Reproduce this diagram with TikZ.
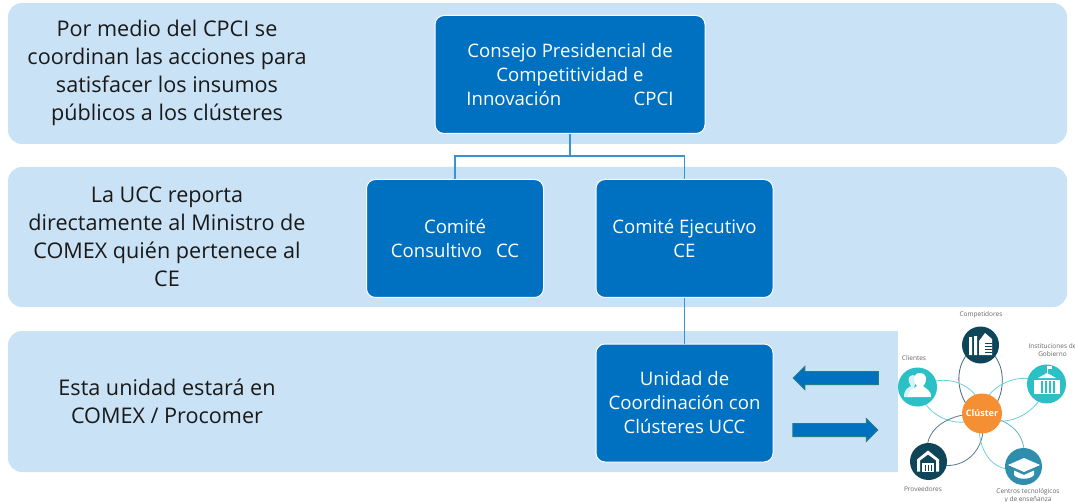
\documentclass[tikz,border=0pt]{standalone}
\usepackage{fontspec}
\setmainfont{Open Sans}
\usetikzlibrary{shapes.arrows,arrows.meta}
\definecolor{band}{HTML}{CAE2F5}
\definecolor{boxblue}{HTML}{0070C0}
\definecolor{linkblue}{HTML}{3A92D0}
\definecolor{navy}{HTML}{0F4559}
\definecolor{teal}{HTML}{2BBFC6}
\definecolor{steel}{HTML}{2F8EAC}
\definecolor{orangec}{HTML}{F58F33}
\definecolor{arrowedge}{HTML}{1F7F86}
\tikzset{
 x=1pt,y=-1pt,
 bandbox/.style={fill=band,draw=none,rounded corners=14pt},
 boxn/.style={fill=boxblue,draw=white,line width=1pt,rounded corners=9pt,text=white,font=\fontsize{18.6}{24}\selectfont,align=center,anchor=center,inner sep=0pt},
 sidetxt/.style={font=\fontsize{21.6}{28}\selectfont,align=center,text=black!90,anchor=center,inner sep=0pt},
 linkl/.style={draw=linkblue,line width=1.4pt},
 bigarrow/.style={single arrow,fill=boxblue,draw=arrowedge,line width=1pt,minimum height=85pt,inner xsep=0pt,inner ysep=6pt,single arrow head extend=5pt,single arrow head indent=0pt,anchor=center},
 disc/.style={circle,inner sep=0pt,minimum size=#1,draw=none},
 captxt/.style={font=\fontsize{6.5}{8}\selectfont,text=black!60,align=center,inner sep=0pt,anchor=center},
 petal/.style={line width=0.8pt},
}
\begin{document}
\begin{tikzpicture}
\useasboundingbox (0,0) rectangle (1075,502);
\clip (0,0) rectangle (1075,502);
\fill[white] (0,0) rectangle (1075,502);
\fill[bandbox] (8,3) rectangle (1067,144);
\fill[bandbox] (8,167) rectangle (1067,307);
\fill[band,rounded corners=14pt] (8,331) -- (8,472) -- (910,472) -- (910,331) -- cycle;
\fill[white] (898,325) rectangle (1075,502);

\node[sidetxt] (t1) at (167,72.5) {Por medio del CPCI se\\coordinan las acciones para\\satisfacer los insumos\\públicos a los clústeres};
\node[sidetxt] (t2) at (167,237) {La UCC reporta\\directamente al Ministro de\\COMEX quién pertenece al\\CE};
\node[sidetxt] (t3) at (167,401) {Esta unidad estará en\\COMEX / Procomer};

\node[boxn,minimum width=270pt,minimum height=118pt] (cpci) at (570,74.5) {Consejo Presidencial de\\Competitividad e\\Innovación\hspace{3.9em}CPCI};
\node[boxn,minimum width=177pt,minimum height=118pt] (cc) at (455,238.5) {Comité\\Consultivo\hspace{0.75em}CC};
\node[boxn,minimum width=177pt,minimum height=118pt] (ce) at (684.5,238.5) {Comité Ejecutivo\\CE};
\node[boxn,minimum width=177pt,minimum height=118pt] (ucc) at (684.5,403) {Unidad de\\Coordinación con\\Clústeres UCC};

\coordinate (junc) at (570,156);
\draw[linkl] (cpci.south) -- (junc);
\draw[linkl] (cc.north) |- (junc);
\draw[linkl] (ce.north) |- (junc);
\draw[linkl] (ce.south) -- (ucc.north);

\node[bigarrow,shape border rotate=180] (al) at (839,378) {};
\node[bigarrow] (ar) at (832,430) {};

% cluster graphic
\coordinate (hub) at (982,413.5);
\coordinate (pcomp) at (980.5,345);
\coordinate (pcli) at (917.5,387);
\coordinate (pins) at (1046.5,384);
\coordinate (pprov) at (928.5,461.5);
\coordinate (pcen) at (1023.5,466.5);
\draw[petal,navy!80] (pcomp) .. controls (944,360) and (960,415) .. (hub);
\draw[petal,navy!80] (pcomp) .. controls (1016,360) and (1002,415) .. (hub);
\draw[petal,teal!70] (pcli) .. controls (960,366) and (985,400) .. (hub);
\draw[petal,teal!70] (pcli) .. controls (925,420) and (965,432) .. (hub);
\draw[petal,teal!70] (pins) .. controls (1012,366) and (980,395) .. (hub);
\draw[petal,teal!70] (pins) .. controls (1040,415) and (1000,432) .. (hub);
\draw[petal,navy!70] (pprov) .. controls (918,420) and (965,412) .. (hub);
\draw[petal,navy!70] (pprov) .. controls (962,476) and (990,450) .. (hub);
\draw[petal,steel!70] (pcen) .. controls (1030,425) and (1000,420) .. (hub);
\draw[petal,teal!70] (pcen) .. controls (990,480) and (972,440) .. (hub);

\node[disc=37pt,fill=navy] (ncomp) at (pcomp) {};
\node[disc=39pt,fill=teal] (ncli) at (pcli) {};
\node[disc=39pt,fill=teal] (nins) at (pins) {};
\node[disc=37pt,fill=navy] (nprov) at (pprov) {};
\node[disc=37pt,fill=steel] (ncen) at (pcen) {};
\node[disc=40pt,fill=orangec,text=white,font=\fontsize{9}{10}\bfseries\selectfont] (nhub) at (hub) {Clúster};

% competitor icon
\fill[white] (969,337) rectangle (972,355) (974,336) rectangle (977,355);
\fill[white] (979,341) -- (985,333) -- (992,339) -- (992,355) -- (979,355) -- cycle;
\draw[navy,line width=.5pt] (985,343) -- (992,343) (985,346) -- (992,346) (985,349) -- (992,349) (985,352) -- (992,352);
% client icon
\fill[white!80!teal] (904,397) .. controls (904,389) and (908,388) .. (911,386) .. controls (907,381) and (908,375) .. (913,375) .. controls (916,375) and (916,379) .. (916,380) -- (912,397) -- cycle;
\fill[white] (908,397) .. controls (908,389) and (914,389) .. (917,386) .. controls (912,381) and (913,373) .. (920,373) .. controls (927,373) and (928,381) .. (923,386) .. controls (926,389) and (931,390) .. (931,397) -- cycle;
% institution icon
\fill[white] (1038,378) -- (1047,373) -- (1056,378) -- cycle;
\fill[white] (1046.6,373) rectangle (1047.4,366);
\fill[white] (1047.4,366) rectangle (1052,369);
\fill[white] (1034,380) rectangle (1060,394);
\foreach \q in {1041,1045,1049,1053}{\fill[teal] (\q,381) rectangle (\q+1.5,393);}
% warehouse icon
\fill[white] (917,459.5) -- (928,450.5) -- (939,459.5) -- (939,471.5) -- (936,471.5) -- (936,460.5) -- (928,454.5) -- (920,460.5) -- (920,471.5) -- (917,471.5) -- cycle;
\fill[white] (922,462.5) rectangle (934,471.5);
\foreach \q in {925,928,931}{\fill[navy] (\q,464.5) rectangle (\q+1,470.5);}
% graduation cap icon
\fill[white] (1024,458) -- (1040,465) -- (1024,472) -- (1008,465) -- cycle;
\fill[white] (1014,470.5) -- (1024,475) -- (1034,470.5) -- (1034,475) .. controls (1030,480) and (1018,480) .. (1014,475) -- cycle;

\node[captxt] (c1) at (981,315) {Competidores};
\node[captxt] (c2) at (914,358) {Clientes};
\node[captxt] (c3) at (1052.5,350) {Instituciones de\\Gobierno};
\node[captxt] (c4) at (923,489) {Proveedores};
\node[captxt] (c5) at (1028,496) {Centros tecnológicos\\y de enseñanza};
\end{tikzpicture}
\end{document}
